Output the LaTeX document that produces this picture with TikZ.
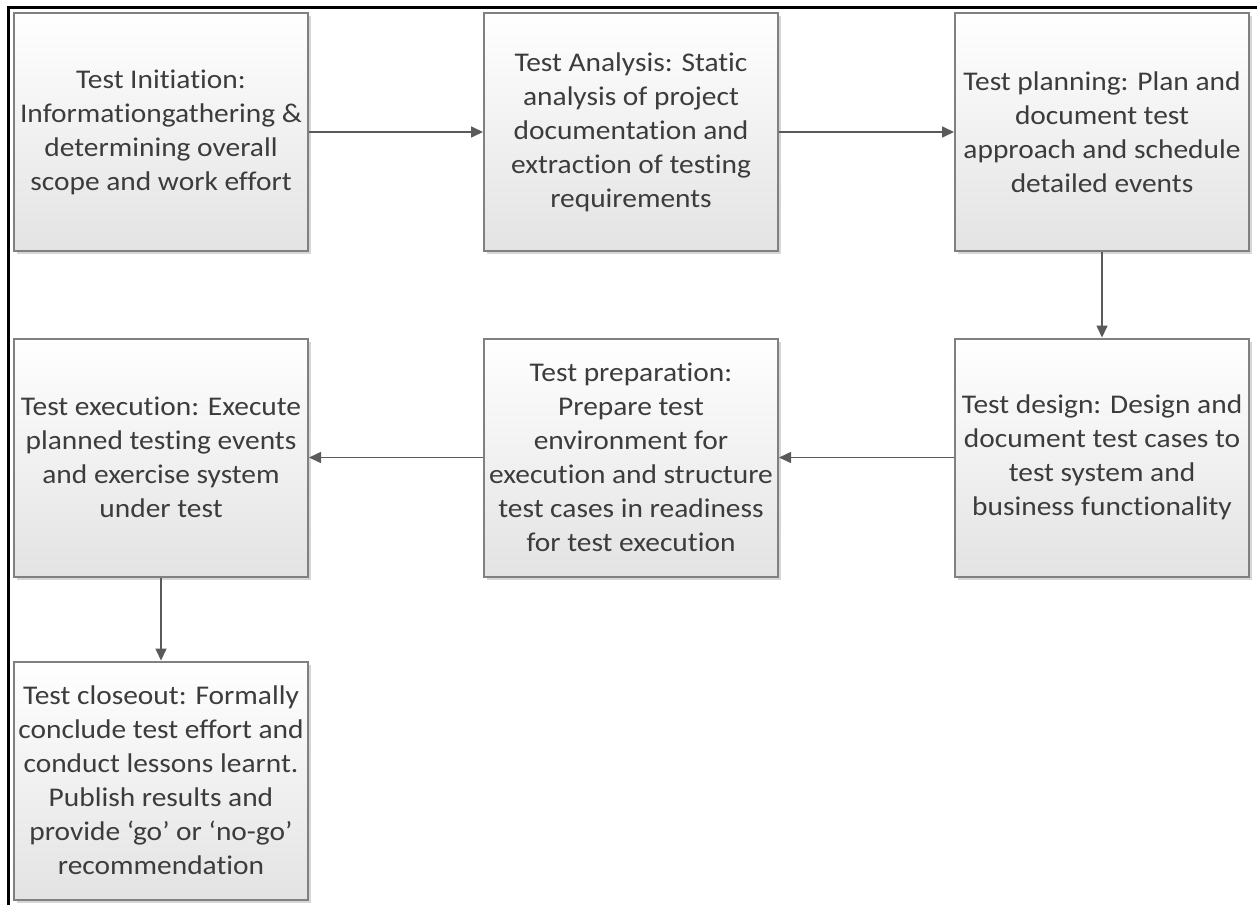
\documentclass[tikz,border=0pt]{standalone}
\usepackage{fontspec}
\setmainfont[FakeStretch=1.09,Ligatures={NoCommon}]{Carlito}
\usetikzlibrary{arrows.meta}
\definecolor{boxline}{HTML}{808080}
\definecolor{boxtext}{HTML}{3C3C3C}
\definecolor{arrowcol}{HTML}{5A5A5A}
\tikzset{
  stage/.style={draw=boxline, line width=2pt, top color=white, bottom color=black!11,
    minimum width=294pt, minimum height=238pt, inner sep=0pt, align=center, text=boxtext,
    font=\fontsize{27}{34}\selectfont},
  flow/.style={draw=arrowcol, line width=1.6pt, -{Triangle[length=12pt,width=11pt]}}
}
\begin{document}
\begin{tikzpicture}[x=1pt,y=-1pt]
\useasboundingbox (0,0) rectangle (1257,905);
\fill[white] (0,0) rectangle (1257,905);
% frame along the top and left edges
\draw[line width=3pt] (8,905) -- (8,7) -- (1257,7);

% soft shadows behind the boxes
\foreach \cx/\cy in {161/132, 631/132, 1102/132, 1102/457.5, 631/457.5, 161/457.5, 161/780.5}{
  \fill[black!16] (\cx-147+3,\cy-119+3) rectangle (\cx+147+3,\cy+119+3);
}

\node[stage] (init)  at (161,132)   {Test Initiation:\\Informationgathering \&\\determining overall\\scope and work effort};
\node[stage] (anal)  at (631,132)   {Test Analysis: Static\\analysis of project\\documentation and\\extraction of testing\\requirements};
\node[stage] (plan)  at (1102,132)  {Test planning: Plan and\\document test\\approach and schedule\\detailed events};
\node[stage] (desg)  at (1102,457.5){Test design: Design and\\document test cases to\\test system and\\business functionality};
\node[stage] (prep)  at (631,457.5) {Test preparation:\\Prepare test\\environment for\\execution and structure\\test cases in readiness\\for test execution};
\node[stage] (exec)  at (161,457.5) {Test execution: Execute\\planned testing events\\and exercise system\\under test};
\node[stage] (close) at (161,780.5) {Test closeout: Formally\\conclude test effort and\\conduct lessons learnt.\\Publish results and\\provide ‘go’ or ‘no-go’\\recommendation};

\draw[flow] (init) -- (anal);
\draw[flow] (anal) -- (plan);
\draw[flow] (plan) -- (desg);
\draw[flow] (desg) -- (prep);
\draw[flow] (prep) -- (exec);
\draw[flow] (exec) -- (close);
\end{tikzpicture}
\end{document}
